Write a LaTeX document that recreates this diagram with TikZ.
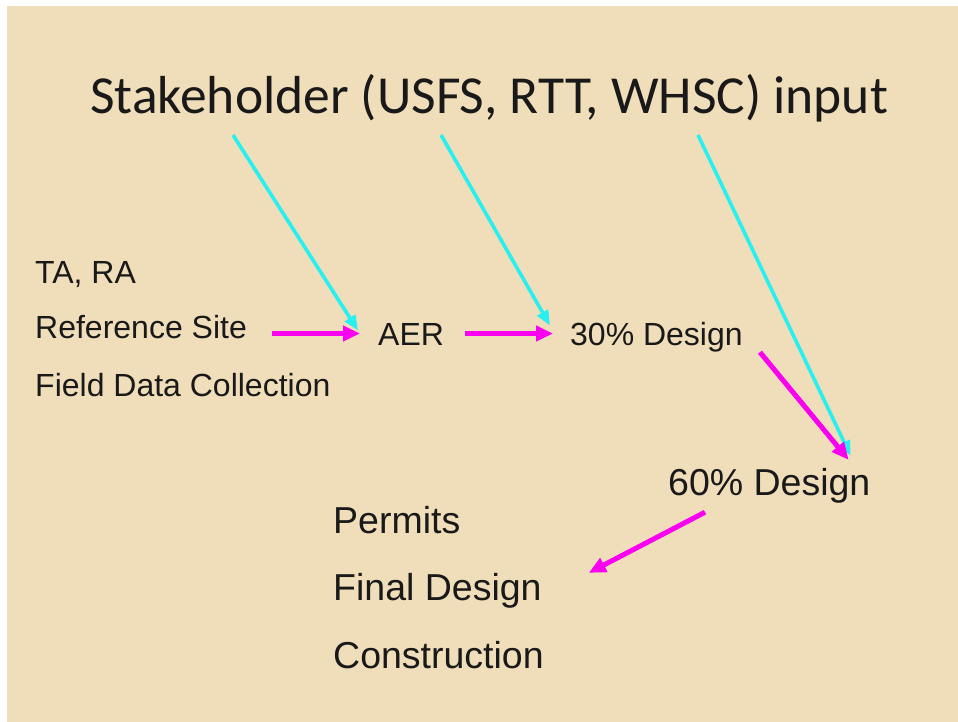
\documentclass[tikz,border=0pt]{standalone}
\usepackage{fontspec}
\setmainfont{Liberation Sans}
\newfontfamily\titlefont{Carlito}
\usetikzlibrary{arrows.meta,positioning,calc}
\definecolor{parchment}{RGB}{240,222,186}
\definecolor{figmagenta}{RGB}{250,0,240}
\definecolor{figcyan}{RGB}{40,240,240}
\definecolor{figtext}{RGB}{25,25,25}
\tikzset{
  itemtext/.style={anchor=base west, inner sep=0pt, text=figtext, font=\fontsize{32}{38}\selectfont, text height=23pt, text depth=0pt},
  bigtext/.style={itemtext, font=\fontsize{37.5}{44}\selectfont, text height=27pt},
  titletext/.style={anchor=base west, inner sep=0pt, text=figtext, font=\titlefont\fontsize{53.5}{64}\selectfont, text depth=0pt},
  flowline/.style={-{Triangle[length=17pt,width=15pt]}, draw=figmagenta, line width=5pt},
  inputline/.style={-{Triangle[length=15pt,width=12pt]}, draw=figcyan, line width=3.6pt}
}
\begin{document}
\begin{tikzpicture}[x=1pt,y=-1pt]
  % page and parchment
  \useasboundingbox (0,0) rectangle (958,721);
  \fill[white] (-5,-5) rectangle (965,730);
  \fill[parchment] (7,6) rectangle (965,730);

  \node[titletext] (title) at (90,113) {Stakeholder (USFS, RTT, WHSC) input};

  \node[itemtext] (tara) at (35,283) {TA, RA};
  \node[itemtext] (refsite) at (35,338) {Reference Site};
  \node[itemtext] (fielddata) at (35,396) {Field Data Collection};

  \node[itemtext] (aer) at (378,345) {AER};
  \node[itemtext] (d30) at (570,345) {30\% Design};
  \node[bigtext] (d60) at (668,495) {60\% Design};

  \node[bigtext] (permits) at (333,533) {Permits};
  \node[bigtext] (final) at (333,600) {Final Design};
  \node[bigtext] (construct) at (333,668) {Construction};

  % stakeholder input
  \coordinate (s1) at ($(title.base west)+(143,22)$);
  \coordinate (s2) at ($(title.base west)+(351,22)$);
  \coordinate (s3) at ($(title.base west)+(608,22)$);
  \draw[inputline] (s1) -- ($(aer.west)+(-20,-3)$);
  \draw[inputline] (s2) -- ($(d30.west)+(-20,-8)$);
  \draw[inputline] (s3) -- ($(d60.north east)+(-20,-12)$);

  % design flow
  \draw[flowline, shorten <=25pt, shorten >=18pt] (refsite.east |- aer.west) -- (aer.west);
  \draw[flowline, shorten <=21pt, shorten >=17pt] (aer.east) -- (d30.west);
  \draw[flowline] ($(d30.south east)+(17,7)$) -- ($(d60.north east)+(-22,-8)$);
  \draw[flowline] ($(d60.south west)+(37,17)$) -- ($(final.north east)+(47,0)$);
\end{tikzpicture}
\end{document}
